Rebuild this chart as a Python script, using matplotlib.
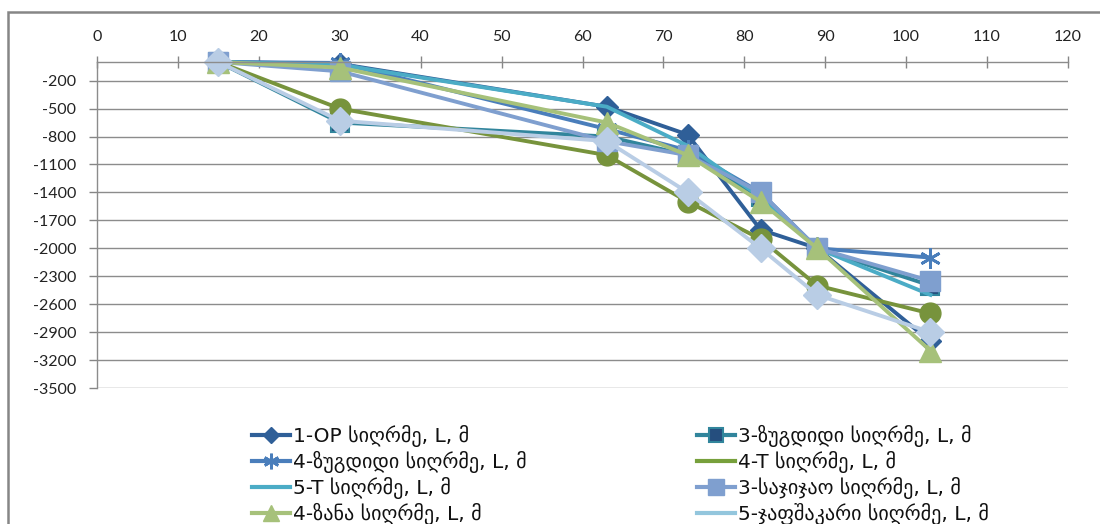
import matplotlib
matplotlib.use("Agg")
import matplotlib.pyplot as plt
from matplotlib.lines import Line2D
from matplotlib.patches import Rectangle
import numpy as np

plt.rcParams['font.family'] = ['Lato', 'DejaVu Sans']
plt.rcParams['axes.unicode_minus'] = False

# ---- data ----
depth_x = [15, 30, 63, 73, 82, 89, 103]
labels = [
    "1-OP სიღრმე, L, მ",
    "3-ზუგდიდი სიღრმე, L, მ",
    "4-ზუგდიდი სიღრმე, L, მ",
    "4-T სიღრმე, L, მ",
    "5-T სიღრმე, L, მ",
    "3-საჯიჯაო სიღრმე, L, მ",
    "4-ზანა სიღრმე, L, მ",
    "5-ჯაფშაკარი სიღრმე, L, მ",
]
op1 = [0, -20, -480, -780, -1800, -2000, -3000]
zugdidi3 = [0, -650, -800, -1000, -1450, -2000, -2400]
zugdidi4 = [0, -10, -720, -950, -1400, -2000, -2100]
t4 = [0, -500, -1000, -1500, -1900, -2400, -2700]
t5 = [0, -30, -480, -900, -1450, -2000, -2500]
sajijao3 = [0, -100, -850, -1000, -1400, -2000, -2350]
zana4 = [0, -60, -650, -1000, -1500, -2000, -3100]
japshakari5 = [0, -630, -850, -1400, -2000, -2500, -2900]
x_ticks = list(range(0, 121, 10))
y_ticks = list(range(-3500, 0, 300))

series = [op1, zugdidi3, zugdidi4, t4, t5, sajijao3, zana4, japshakari5]

# ---- styles ----
styles = [
    dict(color='#2F5F98', marker='D', ms=11.5, mfc='#2F5F98', mec='#2F5F98'),
    dict(color='#31859C', marker='s', ms=13, mfc='#254E7E', mec='#31859C', mew=1.5),
    dict(color='#4A7EBB', marker=(6, 2, 0), ms=15, mfc='#4A7EBB', mec='#4A7EBB', mew=2),
    dict(color='#77933C', marker='o', ms=15, mfc='#77933C', mec='#77933C'),
    dict(color='#4BACC6', marker=None),
    dict(color='#7F9FCF', marker='s', ms=15, mfc='#7F9FCF', mec='#7F9FCF'),
    dict(color='#A6C17A', marker='^', ms=16, mfc='#A6C17A', mec='#A6C17A'),
    dict(color='#B9CDE5', marker='D', ms=14, mfc='#B9CDE5', mec='#B9CDE5'),
]
legend_colors = ['#2F5F98', '#31859C', '#4A7EBB', '#77A03C', '#4BACC6',
                 '#7F9FCF', '#A6C17A', '#93C6DD']
legend_markers = [True, True, True, False, False, True, True, False]

fig = plt.figure(figsize=(11, 5.24), dpi=100)
W, H = 1100, 524
ax = fig.add_axes([97 / W, 1 - 388 / H, (1068 - 97) / W, (388 - 62) / H])

for vals, st, lab in zip(series, styles, labels):
    ax.plot(depth_x, vals, lw=2.8, clip_on=False, label=lab, **st)

ax.set_xlim(0, 120)
ax.set_ylim(-3500, 0)
ax.set_xticks(x_ticks)
ax.set_yticks(y_ticks)
ax.xaxis.tick_top()
ax.tick_params(axis='x', direction='inout', length=8, width=1, color='#868686',
               labelsize=11.5, pad=9, labelcolor='#222222')
ax.tick_params(axis='y', direction='out', length=6, width=1, color='#868686',
               labelsize=11.5, pad=9, labelcolor='#222222')
ax.grid(axis='y', color='#8C8C8C', lw=1)
ax.set_axisbelow(True)
for s in ['right', 'bottom']:
    ax.spines[s].set_visible(False)
for s in ['top', 'left']:
    ax.spines[s].set_color('#8C8C8C')
    ax.spines[s].set_linewidth(1)

# chart-area border (left & top visible)
fig.patches.append(Rectangle((8 / W, -0.1), 1.2, 1 - 12 / H + 0.1,
                             transform=fig.transFigure, fill=False,
                             ec='#868686', lw=1.8))

# legend with two columns filled row-wise
def make_handle(i):
    st = styles[i]
    if legend_markers[i]:
        return Line2D([], [], color=legend_colors[i], lw=3, marker=st['marker'],
                      ms=st['ms'] * 0.75, mfc=st['mfc'], mec=st['mec'],
                      mew=st.get('mew', 1))
    return Line2D([], [], color=legend_colors[i], lw=3)

leg_kw = dict(loc='upper left', frameon=False, handlelength=1.9,
              handletextpad=0.15, labelspacing=0.19, borderpad=0, borderaxespad=0,
              labelcolor='#111111',
              prop=dict(family=['DejaVu Sans'], size=14.5))
left_idx = [0, 2, 4, 6]
right_idx = [1, 3, 5, 7]
fig.legend([make_handle(i) for i in left_idx], [labels[i] for i in left_idx],
           bbox_to_anchor=(252 / W, 1 - 425 / H), **leg_kw)
fig.legend([make_handle(i) for i in right_idx], [labels[i] for i in right_idx],
           bbox_to_anchor=(697 / W, 1 - 425 / H), **leg_kw)

fig.savefig('out.png', dpi=100)
